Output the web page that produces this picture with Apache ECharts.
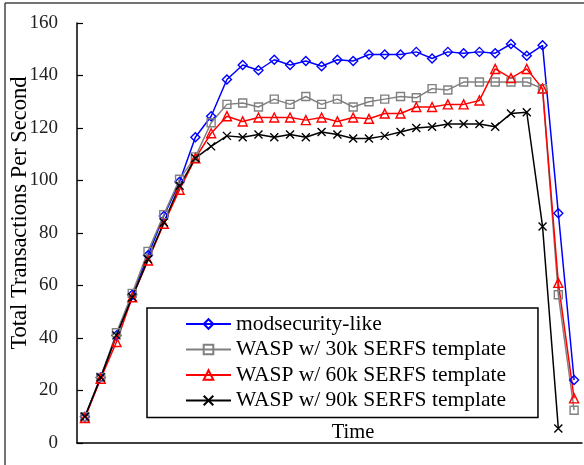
<!DOCTYPE html>
<html>
<head>
<meta charset="utf-8">
<script src="https://cdn.jsdelivr.net/npm/echarts@6/dist/echarts.min.js"></script>
<style>html,body{margin:0;padding:0;background:#fff;}#c{width:584px;height:465px;}</style>
</head>
<body>
<div id="c"></div>
<script>
var categories = [];
for (var i = 1; i <= 32; i++) categories.push(String(i));
var seriesNames = ['modsecurity-like', 'WASP w/ 30k SERFS template', 'WASP w/ 60k SERFS template', 'WASP w/ 90k SERFS template'];
var modsecurity = [10, 25, 41, 56.5, 71.5, 86.5, 99.5, 116.5, 124.5, 138.5, 144, 142, 146, 144, 145.5, 143.5, 146, 145.5, 148, 148, 148, 149, 146.5, 149, 148.5, 149, 148.5, 152, 147.5, 151.5, 87.5, 24];
var wasp30k = [10, 25, 42, 57, 73, 87, 100.5, 109, 122, 129, 129.5, 128, 131, 129, 132, 129, 131, 128, 130, 131, 132, 131.5, 135, 134.5, 137.5, 137.5, 137.5, 137.5, 137.5, 135, 56.5, 12.5];
var wasp60k = [9.5, 24.5, 38.5, 55.5, 69.5, 83.5, 96.5, 108.5, 118, 124.5, 122.5, 124, 124, 124, 123, 124, 122.5, 124, 123.5, 125.5, 125.5, 128, 128, 129, 129, 130.5, 142.5, 139, 142.5, 135, 61, 17];
var wasp90k = [10, 25, 41, 55.5, 70, 84, 98, 108.5, 113, 117, 116.5, 117.5, 116.5, 117.5, 116.5, 118.5, 117.5, 116, 116, 117, 118.5, 120, 120.5, 121.5, 121.5, 121.5, 120.5, 125.5, 126, 82.5, 5.5, null];
var yTicks = [0, 20, 40, 60, 80, 100, 120, 140, 160];

var FONT = '"Liberation Serif", "DejaVu Serif", serif';
function mk(name, data, color, symbol, size) {
  return {
    name: name, type: 'line', data: data,
    symbol: symbol, symbolSize: size,
    connectNulls: false,
    lineStyle: { color: color, width: 1.5 },
    itemStyle: { color: 'rgba(255,255,255,0)', borderColor: color, borderWidth: 1.4 },
    emphasis: { disabled: true },
    animation: false
  };
}
var chart = echarts.init(document.getElementById('c'), null, { renderer: 'canvas' });
chart.setOption({
  animation: false,
  backgroundColor: '#fff',
  grid: { left: 77, right: 2, top: 23, bottom: 22, containLabel: false },
  xAxis: {
    type: 'category', data: categories, boundaryGap: true,
    axisLine: { show: true, lineStyle: { color: '#000', width: 1.5 } },
    axisTick: { show: false }, axisLabel: { show: false }, splitLine: { show: false }
  },
  yAxis: {
    type: 'value', min: yTicks[0], max: yTicks[yTicks.length - 1], interval: 20,
    axisLine: { show: true, lineStyle: { color: '#000', width: 1.5 } },
    axisTick: { show: true, inside: true, length: 6, lineStyle: { color: '#000', width: 1.2 } },
    axisLabel: { color: '#222', fontFamily: FONT, fontSize: 19, margin: 19 },
    splitLine: { show: false }
  },
  legend: {
    orient: 'vertical', left: 147, top: 308,
    data: seriesNames,
    itemWidth: 45, itemHeight: 12, itemGap: 3.5,
    padding: [5, 32, 6, 38],
    borderColor: '#000', borderWidth: 1.5, backgroundColor: '#fff',
    textStyle: { color: '#000', fontFamily: FONT, fontSize: 21.5, lineHeight: 21 }
  },
  graphic: [
    { type: 'text', x: 353, y: 433, style: { text: 'Time', font: '20.5px ' + FONT, fill: '#000', textAlign: 'center', textVerticalAlign: 'middle' } },
    { type: 'text', x: 20, y: 213, rotation: Math.PI / 2, style: { text: 'Total Transactions Per Second', font: '22.5px ' + FONT, fill: '#000', textAlign: 'center', textVerticalAlign: 'middle' } },
    { type: 'line', shape: { x1: 5, y1: 3, x2: 5, y2: 465 }, style: { stroke: '#444', lineWidth: 1.5 } },
    { type: 'line', shape: { x1: 5, y1: 3, x2: 584, y2: 3 }, style: { stroke: '#444', lineWidth: 1.5 } }
  ],
  series: [
    mk(seriesNames[0], modsecurity, '#0000ff', 'diamond', 9),
    mk(seriesNames[1], wasp30k, '#808080', 'rect', 8),
    mk(seriesNames[2], wasp60k, '#ff0000', 'triangle', 9),
    mk(seriesNames[3], wasp90k, '#000000', 'path://M0,0L10,10M10,0L0,10', 8)
  ]
});
</script>
</body>
</html>
